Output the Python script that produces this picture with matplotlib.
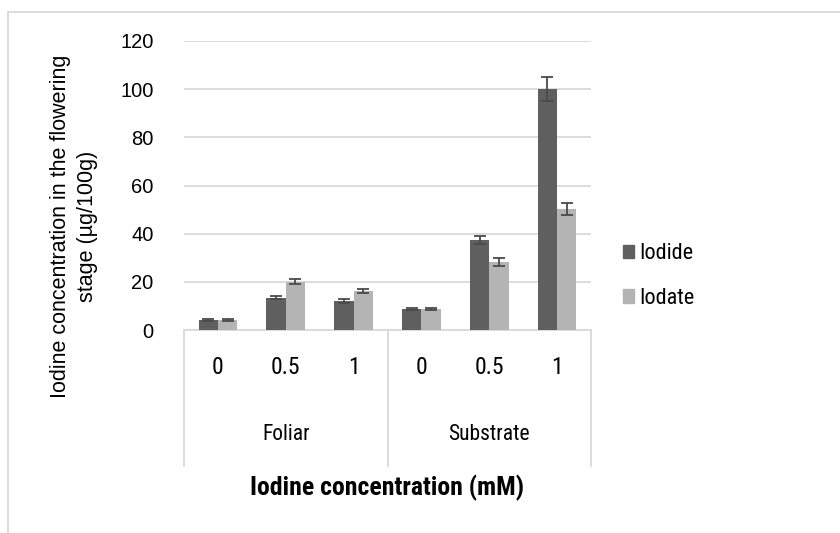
import matplotlib
matplotlib.use("Agg")
import matplotlib.pyplot as plt
from matplotlib.lines import Line2D
from matplotlib import font_manager
import numpy as np

groups = ["Foliar", "Substrate"]
concentrations = ["0", "0.5", "1", "0", "0.5", "1"]
iodide = [4.3, 13.4, 12.2, 8.8, 37.4, 100.0]
iodide_err = [0.4, 0.6, 0.8, 0.5, 1.8, 5.0]
iodate = [4.2, 20.1, 16.2, 8.7, 28.1, 50.2]
iodate_err = [0.4, 1.0, 1.0, 0.5, 1.6, 2.6]
yticks = [0, 20, 40, 60, 80, 100, 120]

names = {f.name for f in font_manager.fontManager.ttflist}
narrow = "DejaVu Sans"
for cand in ["Liberation Sans Narrow", "Roboto Condensed", "Archivo Narrow",
             "PT Sans Narrow", "Sofia Sans Condensed", "Fira Sans Condensed"]:
    if cand in names:
        narrow = cand
        break
NF = [narrow, "DejaVu Sans"]
plt.rcParams['font.family'] = ['Liberation Sans', 'Arial', 'DejaVu Sans']

W, H = 840, 533
fig = plt.figure(figsize=(W / 100, H / 100), dpi=100)
x0, x1, ytop, ybot = 184, 591, 41, 330
ax = fig.add_axes([x0 / W, 1 - ybot / H, (x1 - x0) / W, (ybot - ytop) / H])

x = np.arange(len(concentrations))
bw = 0.286
c1, c2 = "#5f5f5f", "#b4b4b4"
ax.bar(x - bw / 2, iodide, bw, color=c1, label="Iodide", zorder=3)
ax.bar(x + bw / 2, iodate, bw, color=c2, label="Iodate", zorder=3)
ax.errorbar(x - bw / 2, iodide, yerr=iodide_err, fmt="none", ecolor="#4a4a4a",
            elinewidth=1.3, capsize=4, capthick=1.3, zorder=4)
ax.errorbar(x + bw / 2, iodate, yerr=iodate_err, fmt="none", ecolor="#4a4a4a",
            elinewidth=1.3, capsize=4, capthick=1.3, zorder=4)

ax.set_xlim(-0.5, len(x) - 0.5)
ax.set_ylim(0, 120)
ax.set_yticks(yticks)
ax.set_yticklabels([str(t) for t in yticks], fontsize=14.5)
ax.tick_params(axis="y", length=0, pad=22)
ax.tick_params(axis="x", length=0)
ax.set_xticks([])
ax.yaxis.grid(True, color="#d9d9d9", linewidth=1.3, zorder=0)
ax.set_axisbelow(True)
for s in ["left", "right", "top"]:
    ax.spines[s].set_visible(False)
ax.spines["bottom"].set_color("#d9d9d9")
ax.spines["bottom"].set_linewidth(1.3)

# category labels
trans = ax.get_xaxis_transform()
ylab = -(368 - ybot) / (ybot - ytop)
for xi, lab in zip(x, concentrations):
    ax.text(xi, ylab, lab, transform=trans, ha="center", va="center",
            fontsize=17, family=NF)
ygrp = -(435 - ybot) / (ybot - ytop)
for gi, g in enumerate(groups):
    ax.text(gi * 3 + 1, ygrp, g, transform=trans, ha="center", va="center",
            fontsize=15.5, family=NF)
ysep = -(466 - ybot) / (ybot - ytop)
for xs in [-0.5, 2.5, 5.5]:
    ax.add_line(Line2D([xs, xs], [0, ysep], transform=trans, color="#d9d9d9",
                       linewidth=1.3, clip_on=False))

fig.text(387 / W, 1 - 488 / H, "Iodine concentration (mM)",
         ha="center", va="center", fontsize=18.5, fontweight="bold", family=NF)
fig.text(74 / W, 1 - 226 / H, "Iodine concentration in the flowering\nstage (µg/100g)",
         ha="center", va="center", rotation=90, fontsize=15.5, linespacing=1.35)

handles = [plt.Rectangle((0, 0), 1, 1, color=c1), plt.Rectangle((0, 0), 1, 1, color=c2)]
fig.legend(handles, ["Iodide", "Iodate"], loc="center left",
           bbox_to_anchor=(623 / W, 1 - 276 / H), frameon=False,
           borderpad=0, borderaxespad=0,
           prop={'family': NF, 'size': 16},
           handlelength=0.5, handleheight=0.57, handletextpad=0.25,
           labelspacing=1.05)

# outer chart frame
fig.add_artist(Line2D([8 / W, 8 / W], [0, 1 - 12 / H], transform=fig.transFigure,
                      color="#d9d9d9", linewidth=1.3))
fig.add_artist(Line2D([8 / W, 1], [1 - 12 / H, 1 - 12 / H], transform=fig.transFigure,
                      color="#d9d9d9", linewidth=1.3))

fig.savefig("out.png", dpi=100, facecolor="white")
